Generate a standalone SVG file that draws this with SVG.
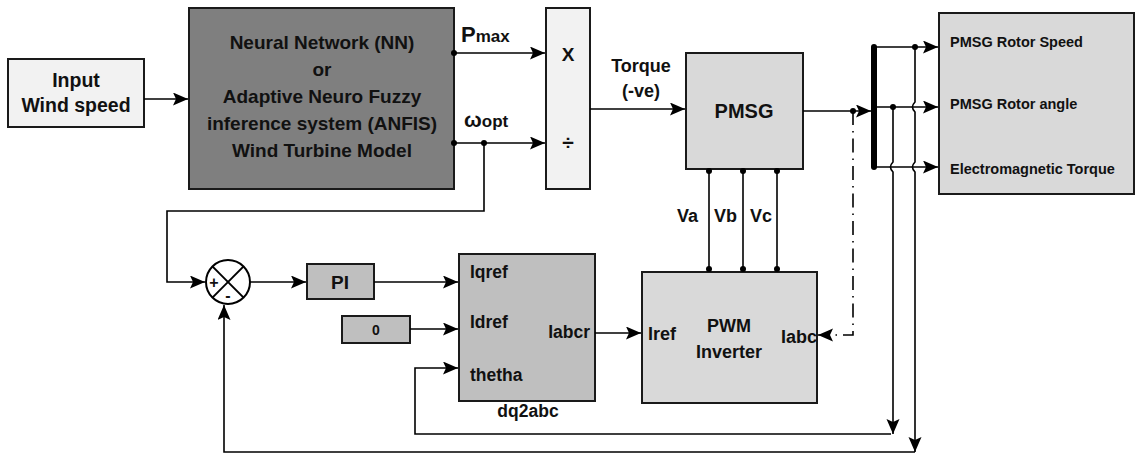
<svg xmlns="http://www.w3.org/2000/svg" width="1136" height="454" viewBox="0 0 1136 454">
<defs>
<marker id="arr" markerUnits="userSpaceOnUse" markerWidth="16" markerHeight="14" refX="15" refY="6.5" orient="auto">
<path d="M0,0 L15,6.5 L0,13 L3,6.5 z" fill="#000"/>
</marker>
<style>
.box{stroke:#1a1a1a;stroke-width:2}
.ln{fill:none;stroke:#000;stroke-width:1.6}
.t{font-family:"Liberation Sans",Arial,sans-serif;font-weight:bold;fill:#111}
.m{text-anchor:middle}
.dot{fill:#000}
</style>
</defs>
<rect width="1136" height="454" fill="#fff"/>

<g id="input">
<rect class="box" x="8" y="59" width="136" height="68" fill="#f2f2f2"/>
<text class="t m" x="76" y="87" font-size="19.5">Input</text>
<text class="t m" x="76" y="112" font-size="19.5">Wind speed</text>
</g>

<g id="nn">
<rect class="box" x="189" y="8" width="265" height="181" fill="#7f7f7f"/>
<text class="t m" x="322" y="49" font-size="19">Neural Network (NN)</text>
<text class="t m" x="322" y="76" font-size="19">or</text>
<text class="t m" x="322" y="103" font-size="19">Adaptive Neuro Fuzzy</text>
<text class="t m" x="322" y="130" font-size="19">inference system (ANFIS)</text>
<text class="t m" x="322" y="157" font-size="19">Wind Turbine Model</text>
</g>

<g id="mult">
<rect class="box" x="546" y="8" width="44" height="181" fill="#f2f2f2"/>
<text class="t m" x="568" y="61" font-size="19">X</text>
<text class="t m" x="568" y="150" font-size="21">÷</text>
</g>

<g id="pmsg">
<rect class="box" x="686" y="53" width="117" height="116" fill="#d9d9d9"/>
<text class="t m" x="744" y="118" font-size="20">PMSG</text>
</g>

<g id="scope">
<rect class="box" x="939" y="13" width="195" height="181" fill="#d9d9d9"/>
<text class="t" x="950" y="47" font-size="14.5">PMSG Rotor Speed</text>
<text class="t" x="950" y="109" font-size="14.5">PMSG Rotor angle</text>
<text class="t" x="950" y="174" font-size="14.5">Electromagnetic Torque</text>
</g>

<g id="sum">
<circle cx="228" cy="282" r="22" fill="#fff" stroke="#000" stroke-width="2"/>
<line x1="212.4" y1="266.4" x2="243.6" y2="297.6" stroke="#000" stroke-width="2"/>
<line x1="243.6" y1="266.4" x2="212.4" y2="297.6" stroke="#000" stroke-width="2"/>
<text class="t m" x="214" y="288" font-size="16">+</text>
<text class="t m" x="228" y="301" font-size="16">-</text>
</g>

<g id="pi">
<rect class="box" x="307" y="264" width="67" height="35" fill="#bfbfbf"/>
<text class="t m" x="340" y="289" font-size="19">PI</text>
</g>

<g id="zero">
<rect class="box" x="342" y="316" width="68" height="27" fill="#bfbfbf"/>
<text class="t m" x="376" y="335" font-size="14">0</text>
</g>

<g id="dq2abc">
<rect class="box" x="459" y="254" width="136" height="147" fill="#bfbfbf"/>
<text class="t" x="470" y="278" font-size="17.5">Iqref</text>
<text class="t" x="470" y="328" font-size="17.5">Idref</text>
<text class="t" x="470" y="381" font-size="17.5">thetha</text>
<text class="t" x="590" y="338" font-size="17.5" text-anchor="end">Iabcr</text>
<text class="t m" x="528" y="417" font-size="17.5">dq2abc</text>
</g>

<g id="pwm">
<rect class="box" x="642" y="272" width="175" height="131" fill="#d9d9d9"/>
<text class="t m" x="729" y="332" font-size="18">PWM</text>
<text class="t m" x="729" y="358" font-size="18">Inverter</text>
<text class="t" x="648" y="340" font-size="18">Iref</text>
<text class="t" x="817" y="343" font-size="18" text-anchor="end">Iabc</text>
</g>

<g id="connectors">
<line class="ln" x1="144" y1="99" x2="188" y2="99" marker-end="url(#arr)"/>
<line class="ln" x1="454" y1="53" x2="545" y2="53" marker-end="url(#arr)"/>
<line class="ln" x1="454" y1="143" x2="545" y2="143" marker-end="url(#arr)"/>
<line class="ln" x1="590" y1="109" x2="685" y2="109" marker-end="url(#arr)"/>
<line class="ln" x1="803" y1="111" x2="871" y2="111" marker-end="url(#arr)"/>
<line x1="874" y1="47" x2="874" y2="167" stroke="#000" stroke-width="6" stroke-linecap="round"/>
<line class="ln" x1="874" y1="47" x2="938" y2="47" marker-end="url(#arr)"/>
<line class="ln" x1="874" y1="107" x2="938" y2="107" marker-end="url(#arr)"/>
<line class="ln" x1="874" y1="167" x2="938" y2="167" marker-end="url(#arr)"/>
<path class="ln" d="M915,47 V102 q-5,5 0,10 V162 q-5,5 0,10 V452" marker-end="url(#arr)"/>
<path class="ln" d="M893,107 V162 q-5,5 0,10 V434" marker-end="url(#arr)"/>
<path class="ln" d="M891,434 H415 V368 H458" marker-end="url(#arr)"/>
<path class="ln" d="M915,452 H224 V305" marker-end="url(#arr)"/>
<path class="ln" d="M484,143 V211 H167 V282 H205" marker-end="url(#arr)"/>
<line class="ln" x1="250" y1="282" x2="306" y2="282" marker-end="url(#arr)"/>
<line class="ln" x1="374" y1="282" x2="458" y2="282" marker-end="url(#arr)"/>
<line class="ln" x1="410" y1="329" x2="458" y2="329" marker-end="url(#arr)"/>
<line class="ln" x1="595" y1="333" x2="641" y2="333" marker-end="url(#arr)"/>
<line class="ln" x1="709" y1="171" x2="709" y2="269"/>
<line class="ln" x1="743" y1="171" x2="743" y2="269"/>
<line class="ln" x1="777" y1="171" x2="777" y2="269"/>
<path class="ln" d="M853,111 V335 H818" stroke-dasharray="14 6 1.5 6" marker-end="url(#arr)"/>
<circle class="dot" cx="454" cy="53" r="3"/>
<circle class="dot" cx="454" cy="143" r="3"/>
<circle class="dot" cx="484" cy="143" r="3"/>
<circle class="dot" cx="853" cy="111" r="3"/>
<circle class="dot" cx="915" cy="47" r="3"/>
<circle class="dot" cx="893" cy="107" r="3"/>
<circle class="dot" cx="709" cy="171" r="3"/>
<circle class="dot" cx="743" cy="171" r="3"/>
<circle class="dot" cx="777" cy="171" r="3"/>
<circle class="dot" cx="709" cy="269" r="3"/>
<circle class="dot" cx="743" cy="269" r="3"/>
<circle class="dot" cx="777" cy="269" r="3"/>
</g>

<g id="labels">
<text class="t" x="461" y="42" font-size="22">P<tspan font-size="17">max</tspan></text>
<text class="t" x="464" y="127" font-size="21">ω<tspan font-size="17">opt</tspan></text>
<text class="t m" x="641" y="72" font-size="18">Torque</text>
<text class="t m" x="641" y="97" font-size="18">(-ve)</text>
<text class="t" x="677" y="222" font-size="18">Va</text>
<text class="t" x="714" y="222" font-size="18">Vb</text>
<text class="t" x="750" y="222" font-size="18">Vc</text>
</g>
</svg>
